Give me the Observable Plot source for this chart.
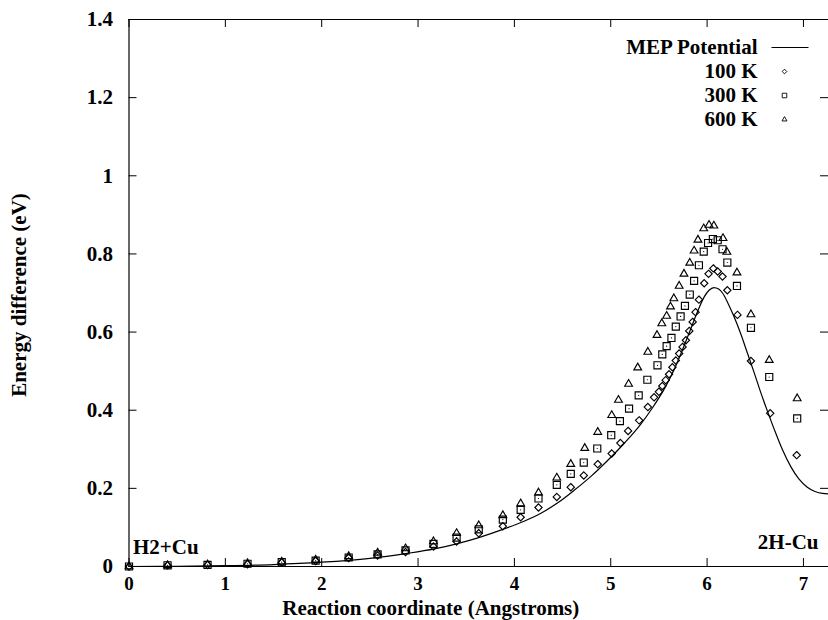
<!DOCTYPE html>
<html><head><meta charset="utf-8">
<script src="https://cdn.jsdelivr.net/npm/d3@7"></script>
<script src="https://cdn.jsdelivr.net/npm/@observablehq/plot@0.6"></script>
<style>html,body{margin:0;padding:0;background:#fff;} svg{display:block}</style>
</head><body><div id="chart"></div>
<script>
// ---- tick labels & texts ----
const xTicks = [0, 1, 2, 3, 4, 5, 6, 7];
const yTicks = [0, 0.2, 0.4, 0.6, 0.8, 1, 1.2, 1.4];
const xTitle = "Reaction coordinate (Angstroms)";
const yTitle = "Energy difference (eV)";
const seriesNames = ["MEP Potential", "100 K", "300 K", "600 K"];
const endLabels = ["H2+Cu", "2H-Cu"];

// ---- MEP potential (line) ----
const mepX = [0, 0.5, 1.0, 1.5, 2.0, 2.5, 2.87, 3.17, 3.4, 3.63, 3.88, 4.1, 4.28, 4.45, 4.62, 4.8, 4.97, 5.15, 5.31, 5.43, 5.55, 5.66, 5.75, 5.83, 5.9, 5.97, 6.02, 6.07, 6.12, 6.16, 6.22, 6.28, 6.35, 6.42, 6.49, 6.56, 6.63, 6.7, 6.78, 6.87, 6.95, 7.04, 7.12, 7.2, 7.27];
const mepY = [0, 0.0005, 0.002, 0.005, 0.011, 0.021, 0.033, 0.045, 0.058, 0.074, 0.095, 0.116, 0.137, 0.163, 0.195, 0.232, 0.272, 0.318, 0.364, 0.405, 0.452, 0.505, 0.558, 0.608, 0.652, 0.69, 0.707, 0.714, 0.71, 0.70, 0.672, 0.639, 0.595, 0.545, 0.495, 0.443, 0.395, 0.349, 0.30, 0.255, 0.225, 0.203, 0.192, 0.187, 0.186];

// ---- 100 K (diamonds) ----
const k100X = [0, 0.40, 0.815, 1.23, 1.585, 1.937, 2.28, 2.58, 2.87, 3.16, 3.40, 3.63, 3.88, 4.065, 4.25, 4.44, 4.585, 4.72, 4.865, 5.01, 5.10, 5.18, 5.295, 5.385, 5.45, 5.50, 5.535, 5.57, 5.605, 5.64, 5.675, 5.71, 5.745, 5.78, 5.815, 5.85, 5.88, 5.915, 5.97, 6.015, 6.065, 6.11, 6.16, 6.21, 6.315, 6.455, 6.655, 6.93];
const k100Y = [0, 0.003, 0.004, 0.006, 0.010, 0.014, 0.022, 0.028, 0.037, 0.051, 0.064, 0.085, 0.103, 0.126, 0.151, 0.178, 0.203, 0.233, 0.262, 0.289, 0.316, 0.347, 0.374, 0.408, 0.433, 0.447, 0.462, 0.477, 0.492, 0.510, 0.527, 0.545, 0.562, 0.579, 0.603, 0.626, 0.651, 0.683, 0.725, 0.749, 0.763, 0.755, 0.742, 0.707, 0.644, 0.526, 0.392, 0.285];

// ---- 300 K (squares) ----
const k300X = [0, 0.40, 0.815, 1.23, 1.585, 1.937, 2.28, 2.58, 2.87, 3.16, 3.40, 3.63, 3.88, 4.065, 4.25, 4.44, 4.585, 4.72, 4.86, 5.005, 5.095, 5.19, 5.29, 5.38, 5.485, 5.535, 5.58, 5.63, 5.675, 5.725, 5.77, 5.82, 5.865, 5.915, 5.965, 6.01, 6.06, 6.11, 6.16, 6.21, 6.31, 6.455, 6.645, 6.935];
const k300Y = [0, 0.003, 0.004, 0.007, 0.011, 0.015, 0.023, 0.031, 0.041, 0.058, 0.074, 0.095, 0.12, 0.145, 0.174, 0.209, 0.237, 0.266, 0.302, 0.336, 0.372, 0.404, 0.438, 0.478, 0.515, 0.543, 0.564, 0.585, 0.614, 0.64, 0.667, 0.696, 0.731, 0.771, 0.806, 0.828, 0.838, 0.835, 0.812, 0.778, 0.718, 0.611, 0.485, 0.379];

// ---- 600 K (triangles) ----
const k600X = [0, 0.40, 0.815, 1.23, 1.585, 1.937, 2.28, 2.58, 2.87, 3.16, 3.40, 3.63, 3.88, 4.065, 4.25, 4.44, 4.585, 4.73, 4.865, 5.01, 5.08, 5.185, 5.28, 5.385, 5.48, 5.53, 5.58, 5.62, 5.655, 5.71, 5.76, 5.82, 5.865, 5.905, 5.965, 6.02, 6.07, 6.165, 6.205, 6.31, 6.455, 6.645, 6.935];
const k600Y = [0, 0.003, 0.005, 0.008, 0.012, 0.017, 0.026, 0.035, 0.046, 0.064, 0.085, 0.105, 0.131, 0.161, 0.189, 0.227, 0.262, 0.303, 0.344, 0.387, 0.426, 0.467, 0.509, 0.549, 0.592, 0.622, 0.641, 0.665, 0.686, 0.718, 0.749, 0.777, 0.808, 0.836, 0.865, 0.874, 0.872, 0.840, 0.805, 0.752, 0.645, 0.528, 0.43];

// ---- layout ----
const W = 828, H = 620, mL = 128.5, mR = 0, mT = 19, mB = 54;
const fw = W - mL - mR, fh = H - mT - mB;
const ink = "#000";
const tick = 8;
const rows = (xs, ys) => xs.map((x, i) => ({x, y: ys[i]}));
const mep = rows(mepX, mepY), k100 = rows(k100X, k100Y), k300 = rows(k300X, k300Y), k600 = rows(k600X, k600Y);
const lineSym = {draw(ctx) { ctx.moveTo(-18.5, 0); ctx.lineTo(18.5, 0); }};
const legendKeys = [
  {symbol: lineSym, r: 3},
  {symbol: "diamond2", r: 2.1},
  {symbol: "square2", r: 2.9},
  {symbol: "triangle2", r: 2.4}
];

const plot = Plot.plot({
  width: W, height: H,
  marginLeft: mL, marginRight: mR, marginTop: mT, marginBottom: mB,
  style: {fontFamily: "'Liberation Serif', 'Times New Roman', serif", fontWeight: "bold", fontSize: "21px", background: "#fff", color: ink, overflow: "visible"},
  x: {domain: [0, 7.26]},
  y: {domain: [yTicks[0], yTicks[yTicks.length - 1]]},
  marks: [
    // frame lines (top, bottom, left)
    Plot.ruleY([yTicks[0], yTicks[yTicks.length - 1]], {stroke: ink, strokeWidth: 1.2}),
    Plot.ruleX([xTicks[0]], {stroke: ink, strokeWidth: 1.2}),
    // inward ticks on all sides
    Plot.tickX(xTicks, {x: d => d, insetTop: fh - tick, stroke: ink}),
    Plot.tickX(xTicks, {x: d => d, insetBottom: fh - tick, stroke: ink}),
    Plot.tickY(yTicks, {y: d => d, insetRight: fw - tick, stroke: ink}),
    Plot.tickY(yTicks, {y: d => d, insetLeft: fw - tick, stroke: ink}),
    Plot.axisX({ticks: xTicks, tickSize: 0, tickPadding: 10, label: null, fontSize: 19}),
    Plot.axisY({ticks: yTicks, tickSize: 0, tickPadding: 16, label: null, tickFormat: d3.format("~g")}),
    // axis titles
    Plot.text([xTitle], {frameAnchor: "bottom", dx: -48, dy: 42, lineAnchor: "middle", textAnchor: "middle"}),
    Plot.text([yTitle], {frameAnchor: "left", rotate: -90, dx: -110, dy: 2, lineAnchor: "middle", textAnchor: "middle"}),
    // end-state labels
    Plot.text([endLabels[0]], {frameAnchor: "bottom-left", dx: 4, dy: -19, textAnchor: "start", lineAnchor: "middle"}),
    Plot.text([endLabels[1]], {frameAnchor: "bottom-right", dx: -10, dy: -24, textAnchor: "end", lineAnchor: "middle"}),
    // data
    Plot.line(mep, {x: "x", y: "y", stroke: ink, strokeWidth: 1.2, curve: "monotone-x"}),
    Plot.dot(k100, {x: "x", y: "y", symbol: "diamond2", r: 3.3, stroke: ink, strokeWidth: 1.15}),
    Plot.dot(k300, {x: "x", y: "y", symbol: "square2", r: 4.5, stroke: ink, strokeWidth: 1.15}),
    Plot.dot(k300, {x: "x", y: "y", r: 0.6, fill: ink, stroke: null}),
    Plot.dot(k600, {x: "x", y: "y", symbol: "triangle2", r: 3.7, stroke: ink, strokeWidth: 1.15}),
    // legend
    ...seriesNames.map((name, i) => Plot.text([name], {frameAnchor: "top-right", dx: -71, dy: 28 + 24 * i, textAnchor: "end", lineAnchor: "middle"})),
    ...legendKeys.map((k, i) => Plot.dot([seriesNames[i]], {frameAnchor: "top-right", dx: i === 0 ? -38.5 : -44, dy: 28 + 24 * i, symbol: k.symbol, r: k.r, stroke: ink, strokeWidth: i === 0 ? 1.2 : 0.9, fill: "none"}))
  ]
});
document.getElementById("chart").appendChild(plot);
</script>
</body></html>
